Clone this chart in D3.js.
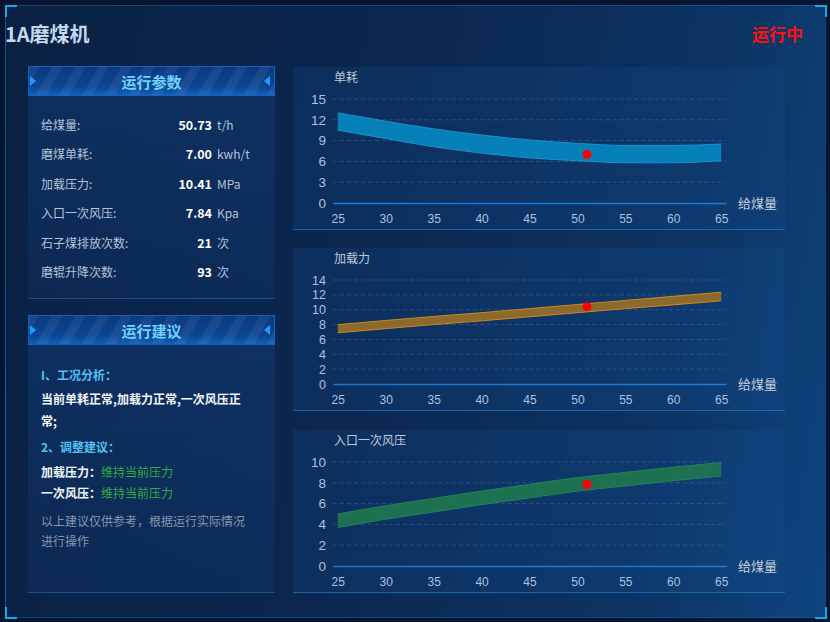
<!DOCTYPE html>
<html>
<head>
<meta charset="utf-8">
<script src="https://cdn.jsdelivr.net/npm/d3@7"></script>
<style>
  body { margin: 0; background: #081530; font-family: "Noto Sans CJK SC", "Noto Sans", sans-serif; }
  #app { position: relative; width: 830px; height: 622px; overflow: hidden; background: #081530; }
  .abs { position: absolute; }
  .frame { left: 5px; top: 5px; width: 819px; height: 611px; border: 1px solid rgba(40,130,210,0.35);
    background: linear-gradient(100deg, #0a2143 0%, #0b2750 45%, #0c3464 80%, #0e4580 100%); }
  .corner { width: 10px; height: 10px; border-color: #18a4ee; border-style: solid; border-width: 0; }
  .panel-head { height: 30px; border: 1px solid #1560c4; box-sizing: border-box;
    background: repeating-linear-gradient(120deg, rgba(255,255,255,0.06) 0 9px, rgba(255,255,255,0) 9px 20px),
                linear-gradient(180deg, #0b3a80 0%, #0c4592 70%, #1160b8 100%);
    color: #6fd3ff; font-weight: bold; font-size: 15px; text-align: center; line-height: 29px; }
  .tri-r { width: 0; height: 0; border-top: 5px solid transparent; border-bottom: 5px solid transparent; border-left: 6px solid #1e9bff; }
  .tri-l { width: 0; height: 0; border-top: 5px solid transparent; border-bottom: 5px solid transparent; border-right: 6px solid #1e9bff; }
  .panel-body { background: linear-gradient(180deg, rgba(20,70,140,0.35), rgba(15,60,120,0.25)); border-bottom: 1px solid rgba(40,140,220,0.35); }
  .row { position: absolute; left: 13px; font-size: 12px; height: 16px; line-height: 16px; }
  .lbl { color: #b3c3d8; }
  .val { position: absolute; width: 80px; text-align: right; color: #ffffff; font-weight: bold; font-size: 12.5px; }
  .unit { position: absolute; color: #b3c3d8; }
  .tip { position: absolute; left: 13px; font-size: 12px; line-height: 16px; white-space: nowrap; }
</style>
</head>
<body>
<div id="app"></div>
<script>
// ---- data ----
const feedTicks = [25, 30, 35, 40, 45, 50, 55, 60, 65];

const unitUpper = [13.0, 11.8, 10.7, 9.8, 9.1, 8.6, 8.3, 8.3, 8.5];
const unitLower = [10.5, 9.3, 8.1, 7.2, 6.5, 6.1, 5.8, 5.8, 6.1];

const loadUpper = [8.0, 8.55, 9.1, 9.6, 10.15, 10.7, 11.25, 11.8, 12.35];
const loadLower = [6.9, 7.45, 8.0, 8.5, 9.05, 9.6, 10.15, 10.65, 11.2];

const airUpper = [5.0, 5.8, 6.5, 7.2, 7.85, 8.5, 9.0, 9.5, 9.95];
const airLower = [3.7, 4.5, 5.2, 5.9, 6.55, 7.2, 7.7, 8.2, 8.65];

const unitTicks = [0, 3, 6, 9, 12, 15];
const loadTicks = [0, 2, 4, 6, 8, 10, 12, 14];
const airTicks = [0, 2, 4, 6, 8, 10];

const paramLabels = ['给煤量:', '磨煤单耗:', '加载压力:', '入口一次风压:', '石子煤排放次数:', '磨辊升降次数:'];
const paramValues = ['50.73', '7.00', '10.41', '7.84', '21', '93'];
const paramUnits = ['t/h', 'kwh/t', 'MPa', 'Kpa', '次', '次'];

const currentFeed = 50.73;
const currentUnit = 7.00;
const currentLoad = 10.41;
const currentAir = 7.84;

const app = d3.select('#app');

// ---- frame ----
app.append('div').attr('class', 'abs frame');
const corners = [
  { l: 5, t: 5, s: 'border-top-width:2px;border-left-width:2px' },
  { l: 815, t: 5, s: 'border-top-width:2px;border-right-width:2px' },
  { l: 5, t: 607, s: 'border-bottom-width:2px;border-left-width:2px' },
  { l: 815, t: 607, s: 'border-bottom-width:2px;border-right-width:2px' }
];
corners.forEach(c => {
  app.append('div').attr('class', 'abs corner')
    .attr('style', `left:${c.l}px;top:${c.t}px;${c.s}`);
});

app.append('div').attr('class', 'abs')
  .style('left', '5px').style('top', '20px')
  .style('font-size', '20px').style('font-weight', 'bold').style('color', '#c4d9ef')
  .style('line-height', '28px')
  .text('1A磨煤机');

app.append('div').attr('class', 'abs')
  .style('left', '752px').style('top', '21px')
  .style('font-size', '17px').style('font-weight', 'bold').style('color', '#ff1010')
  .style('line-height', '26px')
  .text('运行中');

// ---- left panels ----
function panelHead(top, title) {
  const h = app.append('div').attr('class', 'abs panel-head')
    .style('left', '28px').style('top', top + 'px').style('width', '247px')
    .text(title);
  app.append('div').attr('class', 'abs tri-r').style('left', '30px').style('top', (top + 10) + 'px');
  app.append('div').attr('class', 'abs tri-l').style('left', '264px').style('top', (top + 10) + 'px');
  return h;
}

panelHead(66, '运行参数');
const body1 = app.append('div').attr('class', 'abs panel-body')
  .style('left', '28px').style('top', '96px').style('width', '247px').style('height', '202px');

paramLabels.forEach((d, i) => {
  const y = 21 + i * 29.4;
  body1.append('div').attr('class', 'row lbl').style('top', y + 'px').text(d);
  body1.append('div').attr('class', 'val').style('left', '104px').style('top', (y - 1) + 'px')
    .style('line-height', '18px').text(paramValues[i]);
  body1.append('div').attr('class', 'unit').style('left', '189px').style('top', y + 'px')
    .style('font-size', '12px').style('line-height', '16px').text(paramUnits[i]);
});

panelHead(315, '运行建议');
const body2 = app.append('div').attr('class', 'abs panel-body')
  .style('left', '28px').style('top', '345px').style('width', '247px').style('height', '247px');

const tips = [
  { y: 30, html: '<span style="color:#52c2f5;font-weight:bold">I、工况分析：</span>' },
  { y: 54, html: '<span style="color:#f2f6fa;font-weight:bold">当前单耗正常,加载力正常,一次风压正</span>' },
  { y: 76, html: '<span style="color:#f2f6fa;font-weight:bold">常;</span>' },
  { y: 102, html: '<span style="color:#52c2f5;font-weight:bold">2、调整建议：</span>' },
  { y: 127, html: '<span style="color:#f2f6fa;font-weight:bold">加载压力：</span><span style="color:#2fae3e">维持当前压力</span>' },
  { y: 148, html: '<span style="color:#f2f6fa;font-weight:bold">一次风压：</span><span style="color:#2fae3e">维持当前压力</span>' },
  { y: 176, html: '<span style="color:#8796ab">以上建议仅供参考，根据运行实际情况</span>' },
  { y: 196, html: '<span style="color:#8796ab">进行操作</span>' }
];
tips.forEach(t => {
  body2.append('div').attr('class', 'tip').style('top', (t.y - 8) + 'px').html(t.html);
});

// ---- charts ----
const chartW = 492, chartH = 163;
const plotLeft = 40, plotRight = 433, plotTop = 32, plotBottom = 136;
const numFont = '"Liberation Sans", Arial, sans-serif';

function drawChart(top, title, upper, lower, yTicks, yMax, bandColor, edgeColor, dotValue, tickFont) {
  const svg = app.append('svg').attr('class', 'abs')
    .style('left', '293px').style('top', top + 'px')
    .attr('width', chartW).attr('height', chartH);

  svg.append('rect').attr('width', chartW).attr('height', chartH)
    .attr('fill', 'rgba(25,80,150,0.22)');
  svg.append('line').attr('x1', 0).attr('x2', chartW).attr('y1', chartH - 0.5).attr('y2', chartH - 0.5)
    .attr('stroke', 'rgba(40,140,220,0.55)');

  const x = d3.scaleLinear().domain([24.5, 65.5]).range([plotLeft, plotRight]);
  const y = d3.scaleLinear().domain([0, yMax]).range([plotBottom, plotTop]);

  // grid
  svg.selectAll('.grid').data(yTicks.filter(d => d > 0)).join('line')
    .attr('x1', plotLeft).attr('x2', plotRight)
    .attr('y1', d => y(d)).attr('y2', d => y(d))
    .attr('stroke', 'rgba(160,180,210,0.22)').attr('stroke-dasharray', '4,3');

  // y axis labels
  const yAxis = d3.axisLeft(y).tickValues(yTicks).tickSize(0).tickPadding(7);
  const ga = svg.append('g').attr('transform', `translate(${plotLeft},0)`).call(yAxis);
  ga.select('.domain').remove();
  ga.selectAll('text').attr('fill', '#a8c2e2').style('font-size', tickFont + 'px')
    .style('font-family', numFont);

  // x axis
  const xAxis = d3.axisBottom(x).tickValues(feedTicks).tickSize(0).tickPadding(11);
  const gx = svg.append('g').attr('transform', `translate(0,${plotBottom})`).call(xAxis);
  gx.select('.domain').attr('stroke', '#1a7ad6').attr('stroke-width', 1.5);
  gx.selectAll('text').attr('fill', '#a8c2e2').style('font-size', '12px')
    .style('font-family', numFont);

  // band
  const pts = feedTicks.map((f, i) => ({ f, hi: upper[i], lo: lower[i] }));
  const area = d3.area().curve(d3.curveMonotoneX)
    .x(d => x(d.f)).y0(d => y(d.lo)).y1(d => y(d.hi));
  svg.append('path').datum(pts).attr('d', area).attr('fill', bandColor);
  const lineHi = d3.line().curve(d3.curveMonotoneX).x(d => x(d.f)).y(d => y(d.hi));
  const lineLo = d3.line().curve(d3.curveMonotoneX).x(d => x(d.f)).y(d => y(d.lo));
  [lineHi, lineLo].forEach(l => {
    svg.append('path').datum(pts).attr('d', l).attr('fill', 'none')
      .attr('stroke', edgeColor).attr('stroke-width', 1);
  });

  // current point
  svg.append('circle').attr('cx', x(Math.round(currentFeed))).attr('cy', y(dotValue))
    .attr('r', 4.5).attr('fill', '#ff0000');

  // titles
  svg.append('text').attr('x', 41).attr('y', 11).attr('dy', '0.35em')
    .attr('fill', '#bfc9d6').style('font-size', '12px').text(title);
  svg.append('text').attr('x', 445).attr('y', plotBottom).attr('dy', '0.35em')
    .attr('fill', '#c6cfdb').style('font-size', '13px').text('给煤量');
}

drawChart(67, '单耗', unitUpper, unitLower, unitTicks, 15, '#0580b8', '#1b92cc', currentUnit, 13.5);
drawChart(248, '加载力', loadUpper, loadLower, loadTicks, 14, '#8c6a2b', '#c98a22', currentLoad, 12.5);
drawChart(430, '入口一次风压', airUpper, airLower, airTicks, 10, '#1d7050', '#23835a', currentAir, 13.5);
</script>
</body>
</html>
